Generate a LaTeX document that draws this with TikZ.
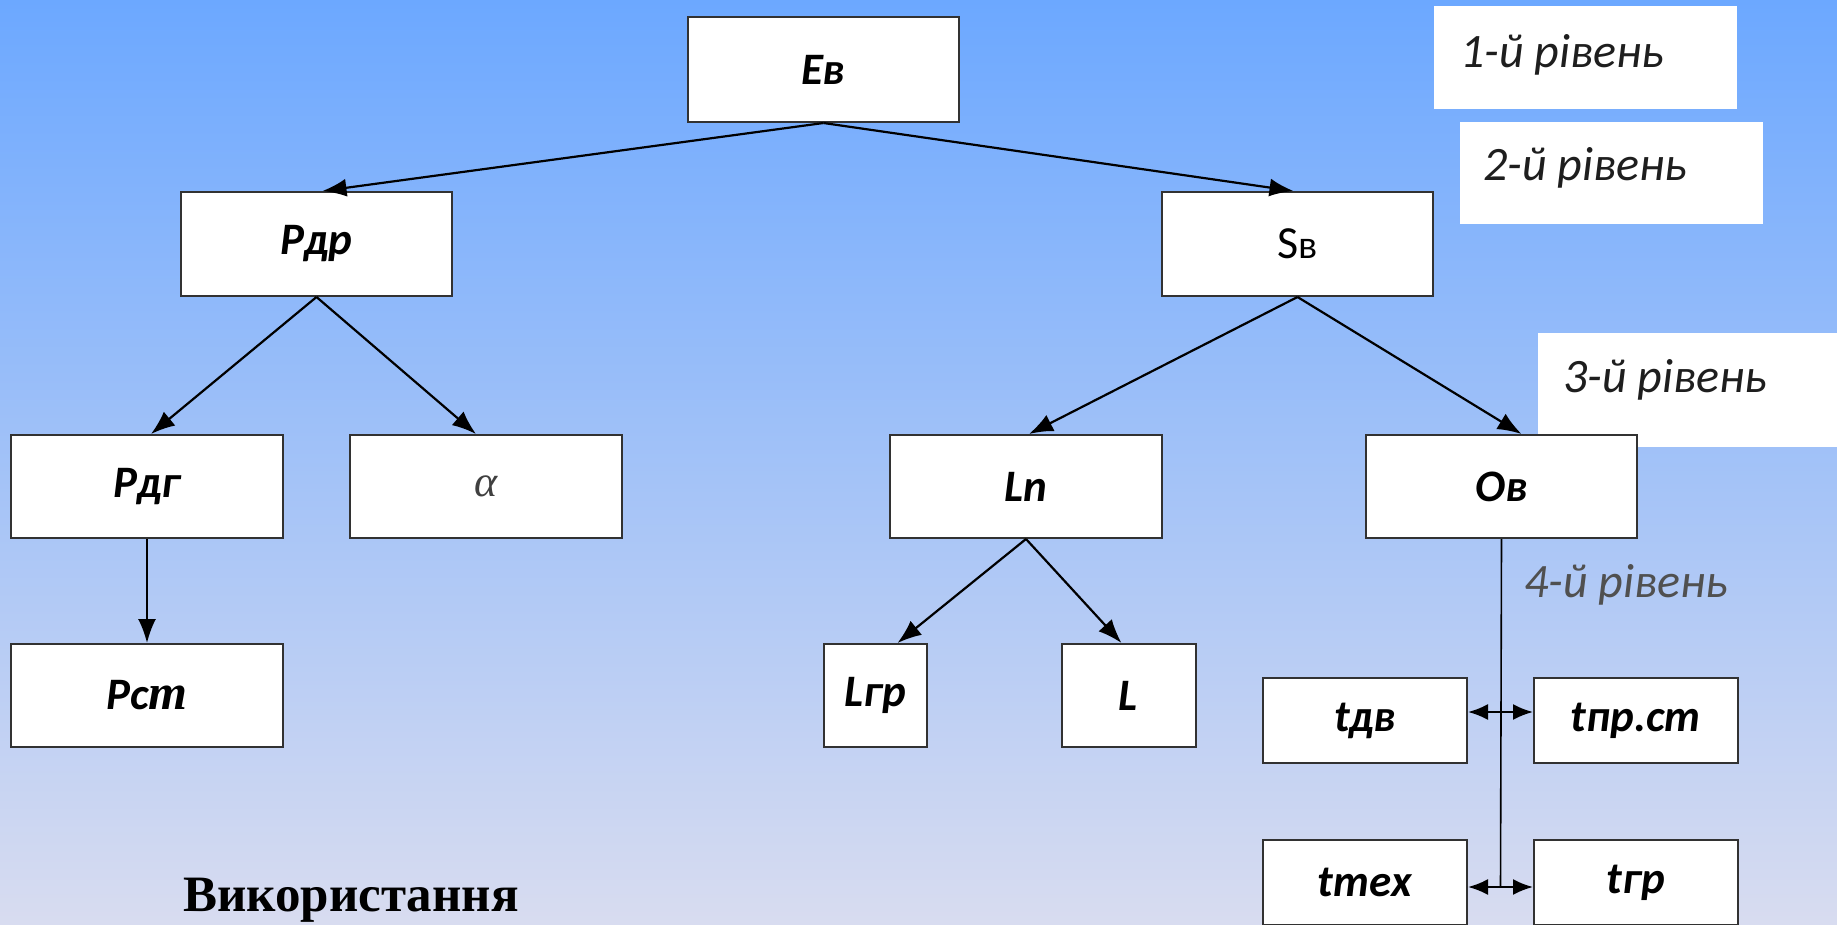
\documentclass[tikz,border=0pt]{standalone}
\usepackage{fontspec}
\usetikzlibrary{arrows.meta}
\setmainfont{Carlito}
\newfontfamily\tnr{Liberation Serif}
\definecolor{bgtop}{RGB}{108,168,255}
\definecolor{bgmid}{RGB}{152,197,246}
\definecolor{bgbot}{RGB}{216,220,240}
\definecolor{boxline}{RGB}{50,50,50}
\definecolor{lvtext}{RGB}{30,30,30}
\definecolor{lvfour}{RGB}{80,80,80}
\tikzset{
  box/.style={draw=boxline, line width=2pt, fill=white, inner sep=0pt, font=\fontsize{45}{48}\selectfont\bfseries\itshape},
  lvbox/.style={fill=white, inner sep=0pt},
  lvtxt/.style={anchor=base west, inner sep=0pt, text=lvtext, font=\fontsize{48}{52}\selectfont\itshape},
  conn/.style={line width=2.2pt, -{Latex[length=24pt,width=18pt]}},
  bconn/.style={line width=2.2pt, {Latex[length=20pt,width=16pt]}-{Latex[length=20pt,width=16pt]}},
  plain/.style={line width=1.6pt}
}
\begin{document}
\begin{tikzpicture}[x=1pt,y=-1pt]
\useasboundingbox (0,0) rectangle (1837,924);
\shade[top color=bgtop, middle color=bgmid, bottom color=bgbot] (0,0) rectangle (1837,924);

% level labels
\node[lvbox, minimum width=303pt, minimum height=103pt] (lv1) at (1585.5,57.5) {};
\node[lvbox, minimum width=303pt, minimum height=102pt] (lv2) at (1611.5,173) {};
\node[lvbox, minimum width=303pt, minimum height=114pt] (lv3) at (1689.5,390) {};
\node[lvtxt] (t1) at (1460,67) {1-й рівень};
\node[lvtxt] (t2) at (1483,180) {2-й рівень};
\node[lvtxt] (t3) at (1563,392) {3-й рівень};
\node[lvtxt, text=lvfour] (t4) at (1524,597) {4-й рівень};

% main boxes
\node[box, minimum width=271pt, minimum height=105pt] (Ev) at (823.5,69.5) {Ев};
\node[box, minimum width=271pt, minimum height=104pt] (Rdr) at (316.5,244) {Рдр};
\node[box, minimum width=271pt, minimum height=104pt, font=\fontsize{46}{48}\selectfont] (Sv) at (1297.5,244) {S{\fontsize{40}{44}\selectfont в}};
\node[box, minimum width=272pt, minimum height=103pt] (Rdg) at (147,486.5) {Рдг};
\node[box, minimum width=272pt, minimum height=103pt, font=\fontsize{44}{48}\tnr\itshape] (al) at (486,486.5) {\textcolor{black!75}{α}};
\node[box, minimum width=272pt, minimum height=103pt] (Rst) at (147,695.5) {Рс{\tnr\fontsize{50}{54}\selectfont т}};
\node[box, minimum width=272pt, minimum height=103pt] (Ln) at (1026,486.5) {Ln};
\node[box, minimum width=271pt, minimum height=103pt] (Ov) at (1501.5,486.5) {Ов};
\node[box, minimum width=103pt, minimum height=103pt] (Lgr) at (875.5,695.5) {Lгр};
\node[box, minimum width=134pt, minimum height=103pt] (L) at (1128.5,695.5) {L};
\node[box, minimum width=204pt, minimum height=85pt] (tdv) at (1365,720.5) {tдв};
\node[box, minimum width=204pt, minimum height=85pt] (tpr) at (1636,720.5) {tпр.ст};
\node[box, minimum width=204pt, minimum height=85pt] (tteh) at (1365,882.5) {tтех};
\node[box, minimum width=204pt, minimum height=85pt] (tgr) at (1636,882.5) {tгр};

% bottom text
\node[anchor=base west, inner sep=0pt, font=\fontsize{51}{56}\tnr\bfseries] (use) at (183,911) {Використання};

% connectors
\draw[conn] (Ev.south) -- ([xshift=6pt]Rdr.north);
\draw[conn] (Ev.south) -- ([xshift=-4pt]Sv.north);
\draw[conn] (Rdr.south) -- ([xshift=4pt]Rdg.north);
\draw[conn] (Rdr.south) -- ([xshift=-10pt]al.north);
\draw[conn] (Rdg.south) -- (Rst.north);
\draw[conn] (Sv.south) -- ([xshift=3pt]Ln.north);
\draw[conn] (Sv.south) -- ([xshift=20pt]Ov.north);
\draw[conn] (Ln.south) -- ([xshift=22pt]Lgr.north);
\draw[conn] (Ln.south) -- ([xshift=-7pt]L.north);

\coordinate (c1) at (1500.5,712);
\coordinate (c2) at (1500.5,887);
\draw[plain] (Ov.south) -- (c2);
\draw[bconn] (tdv.east |- c1) -- (tpr.west |- c1);
\draw[bconn] (tteh.east |- c2) -- (tgr.west |- c2);
\end{tikzpicture}
\end{document}
